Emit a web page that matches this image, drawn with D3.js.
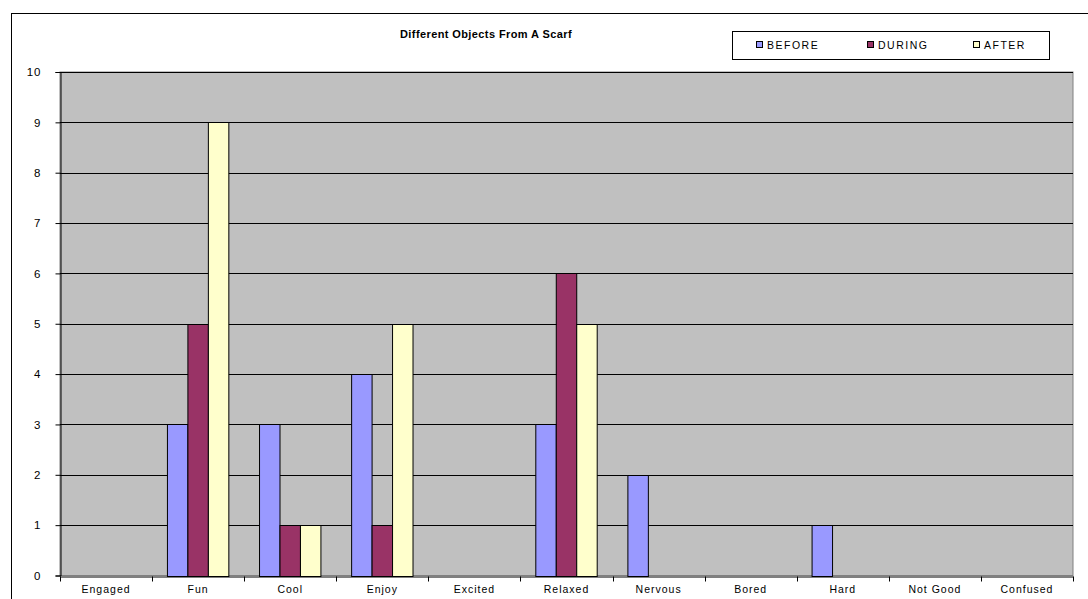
<!DOCTYPE html>
<html lang="en">
<head>
    <meta charset="UTF-8">
    <title>Different Objects From A Scarf</title>
    <script src="https://d3js.org/d3.v7.min.js"></script>
    <style>
        body { margin: 0; background: #fff; }
        svg text { font-family: "Liberation Sans", Arial, sans-serif; fill: #000; }
        .title { font-size: 11px; font-weight: bold; letter-spacing: 0.4px; }
    </style>
</head>
<body>
    <svg width="1088" height="599"></svg>
    <script>
        const categories = ["Engaged", "Fun", "Cool", "Enjoy", "Excited", "Relaxed", "Nervous", "Bored", "Hard", "Not Good", "Confused"];
        const seriesNames = ["BEFORE", "DURING", "AFTER"];
        const before = [0, 3, 3, 4, 0, 3, 2, 0, 1, 0, 0];
        const during = [0, 5, 1, 1, 0, 6, 0, 0, 0, 0, 0];
        const after = [0, 9, 1, 5, 0, 5, 0, 0, 0, 0, 0];
        const yTicks = [0, 1, 2, 3, 4, 5, 6, 7, 8, 9, 10];
        const colors = ["#9999FF", "#993366", "#FFFFCC"];

        const series = [before, during, after];
        const width = 1088, height = 599;
        const margin = { top: 72, right: 15, bottom: 23, left: 60 };

        const svg = d3.select("svg");

        // outer chart border
        svg.append("rect")
            .attr("x", 11.5).attr("y", 13.5)
            .attr("width", 1100).attr("height", 620)
            .attr("fill", "none").attr("stroke", "#000").attr("stroke-width", 1);

        const x0 = d3.scaleBand()
            .domain(categories)
            .range([margin.left, width - margin.right])
            .paddingInner(0).paddingOuter(0);

        // gap width 150% -> bars take 3/4.5 of each category
        const x1 = d3.scaleBand()
            .domain(seriesNames)
            .range([0, x0.bandwidth()])
            .paddingOuter(0.75).paddingInner(0);

        const y = d3.scaleLinear()
            .domain([0, 10])
            .range([height - margin.bottom - 0.5, margin.top]);

        // plot area
        svg.append("rect")
            .attr("x", margin.left).attr("y", margin.top)
            .attr("width", width - margin.right - margin.left)
            .attr("height", y(0) - margin.top)
            .attr("fill", "#C0C0C0")
            .attr("stroke", "#808080");

        // gridlines
        svg.append("g")
            .selectAll("line")
            .data(yTicks.filter(d => d > 0))
            .join("line")
            .attr("x1", margin.left).attr("x2", width - margin.right)
            .attr("y1", d => Math.round(y(d)) + 0.5).attr("y2", d => Math.round(y(d)) + 0.5)
            .attr("stroke", "#000").attr("stroke-width", 1);

        // bars
        const groups = svg.append("g")
            .selectAll("g")
            .data(categories)
            .join("g")
            .attr("transform", d => `translate(${x0(d)},0)`);

        groups.selectAll("rect")
            .data((c, i) => seriesNames.map((s, k) => ({ s, k, v: series[k][i] })).filter(d => d.v > 0))
            .join("rect")
            .attr("x", d => x1(d.s))
            .attr("y", d => Math.round(y(d.v)) + 0.5)
            .attr("width", x1.bandwidth())
            .attr("height", d => Math.round(y(0)) - Math.round(y(d.v)))
            .attr("fill", d => colors[d.k])
            .attr("stroke", "#000").attr("stroke-width", 1);

        // y axis
        const yAxis = svg.append("g")
            .attr("transform", `translate(${margin.left + 0.5},0)`)
            .call(d3.axisLeft(y).tickValues(yTicks).tickSize(5).tickPadding(14).tickFormat(d3.format("d")));
        yAxis.select(".domain").attr("stroke", "#000");
        yAxis.selectAll("text")
            .attr("font-family", null)
            .style("font-size", "11.5px").style("letter-spacing", "1px");

        // x axis
        const xAxis = svg.append("g")
            .attr("transform", `translate(0,${Math.round(y(0)) + 0.5})`)
            .call(d3.axisBottom(x0).tickSize(0).tickPadding(9));
        xAxis.select(".domain").attr("stroke", "#000");
        xAxis.selectAll("text")
            .attr("font-family", null)
            .style("font-size", "10.5px").style("letter-spacing", "1px");
        // ticks between categories
        xAxis.selectAll(".sep")
            .data(d3.range(categories.length + 1))
            .join("line")
            .attr("class", "sep")
            .attr("x1", i => Math.round(margin.left + i * x0.step()) + 0.5)
            .attr("x2", i => Math.round(margin.left + i * x0.step()) + 0.5)
            .attr("y1", 0).attr("y2", 5)
            .attr("stroke", "#000");

        // title
        svg.append("text")
            .attr("class", "title")
            .attr("x", 486).attr("y", 38)
            .attr("text-anchor", "middle")
            .text("Different Objects From A Scarf");

        // legend
        const legend = svg.append("g");
        legend.append("rect")
            .attr("x", 732.5).attr("y", 31.5)
            .attr("width", 317).attr("height", 28)
            .attr("fill", "#fff").attr("stroke", "#000");
        const legendX = [756, 867, 973];
        seriesNames.forEach((s, k) => {
            legend.append("rect")
                .attr("x", legendX[k] + 0.5).attr("y", 41.5)
                .attr("width", 6).attr("height", 6)
                .attr("fill", colors[k]).attr("stroke", "#000");
            legend.append("text")
                .attr("x", legendX[k] + 11).attr("y", 49)
                .style("font-size", "10.5px").style("letter-spacing", "1.5px")
                .text(s);
        });
    </script>
</body>
</html>
